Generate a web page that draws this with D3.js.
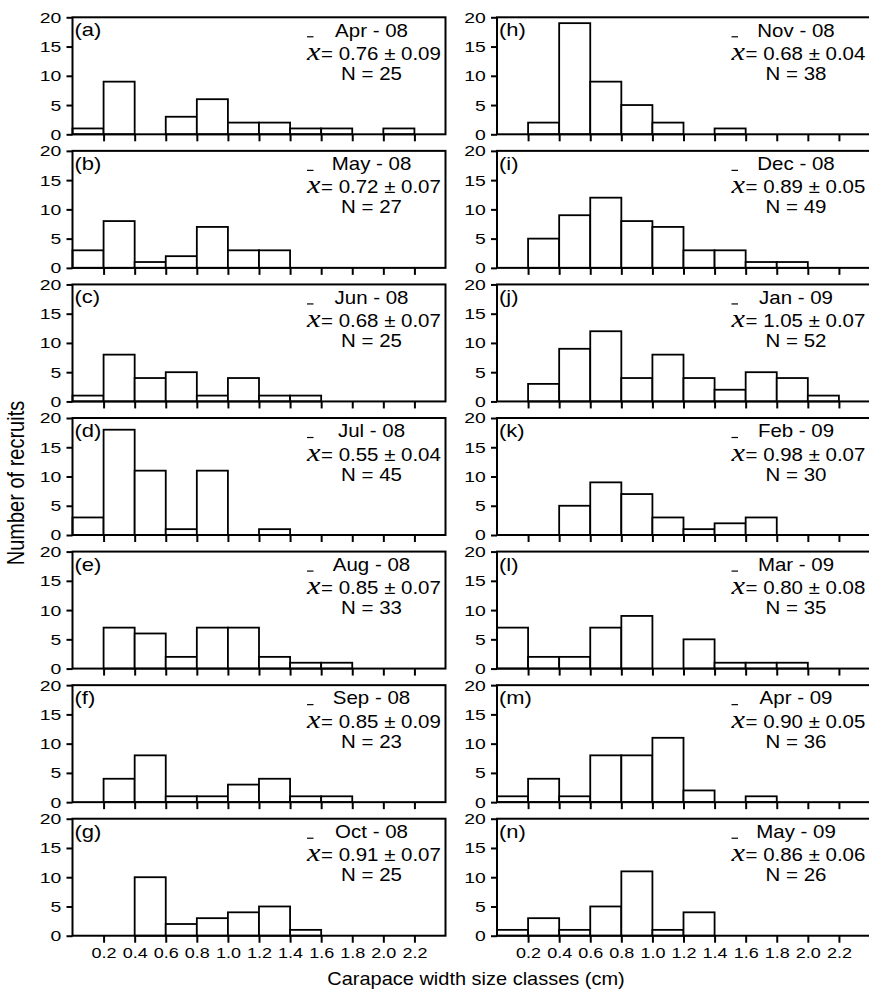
<!DOCTYPE html>
<html>
<head>
<meta charset="utf-8">
<script src="https://cdnjs.cloudflare.com/ajax/libs/d3/7.8.5/d3.min.js"></script>
<style>
	body { margin: 0; background: #fff; }
	svg { display: block; font-family: "Liberation Sans", Arial, sans-serif; }
	.axis text { font-size: 15px; fill: #000; }
	.axis line { stroke: #000; stroke-width: 2; }
	.frame { fill: none; stroke: #000; stroke-width: 2; }
	.bin { fill: #fff; stroke: #000; stroke-width: 1.8; }
</style>
</head>
<body>
<svg id="chart" width="869" height="991"></svg>
<script>
// bins are 0.2 cm wide, starting at 0
var binStarts = [0, 0.2, 0.4, 0.6, 0.8, 1.0, 1.2, 1.4, 1.6, 1.8, 2.0, 2.2];
var binWidth = 0.2;
var xTickValues = [0.2, 0.4, 0.6, 0.8, 1.0, 1.2, 1.4, 1.6, 1.8, 2.0, 2.2];
var yTickValues = [0, 5, 10, 15, 20];

// counts per size class, one array per month
var apr08 = [1, 9, 0, 3, 6, 2, 2, 1, 1, 0, 1, 0];
var may08 = [3, 8, 1, 2, 7, 3, 3, 0, 0, 0, 0, 0];
var jun08 = [1, 8, 4, 5, 1, 4, 1, 1, 0, 0, 0, 0];
var jul08 = [3, 18, 11, 1, 11, 0, 1, 0, 0, 0, 0, 0];
var aug08 = [0, 7, 6, 2, 7, 7, 2, 1, 1, 0, 0, 0];
var sep08 = [0, 4, 8, 1, 1, 3, 4, 1, 1, 0, 0, 0];
var oct08 = [0, 0, 10, 2, 3, 4, 5, 1, 0, 0, 0, 0];
var nov08 = [0, 2, 19, 9, 5, 2, 0, 1, 0, 0, 0, 0];
var dec08 = [0, 5, 9, 12, 8, 7, 3, 3, 1, 1, 0, 0];
var jan09 = [0, 3, 9, 12, 4, 8, 4, 2, 5, 4, 1, 0];
var feb09 = [0, 0, 5, 9, 7, 3, 1, 2, 3, 0, 0, 0];
var mar09 = [7, 2, 2, 7, 9, 0, 5, 1, 1, 1, 0, 0];
var apr09 = [1, 4, 1, 8, 8, 11, 2, 0, 1, 0, 0, 0];
var may09 = [1, 3, 1, 5, 11, 1, 4, 0, 0, 0, 0, 0];

var panelLetters = ["(a)", "(b)", "(c)", "(d)", "(e)", "(f)", "(g)",
	"(h)", "(i)", "(j)", "(k)", "(l)", "(m)", "(n)"];
var months = ["Apr - 08", "May - 08", "Jun - 08", "Jul - 08", "Aug - 08", "Sep - 08", "Oct - 08",
	"Nov - 08", "Dec - 08", "Jan - 09", "Feb - 09", "Mar - 09", "Apr - 09", "May - 09"];
var meanTexts = ["0.76 ± 0.09", "0.72 ± 0.07", "0.68 ± 0.07", "0.55 ± 0.04", "0.85 ± 0.07", "0.85 ± 0.09", "0.91 ± 0.07",
	"0.68 ± 0.04", "0.89 ± 0.05", "1.05 ± 0.07", "0.98 ± 0.07", "0.80 ± 0.08", "0.90 ± 0.05", "0.86 ± 0.06"];
var sampleSizes = [25, 27, 25, 45, 33, 23, 25, 38, 49, 52, 30, 35, 36, 26];
var countSets = [apr08, may08, jun08, jul08, aug08, sep08, oct08,
	nov08, dec08, jan09, feb09, mar09, apr09, may09];

var sizes = {
	rows: 7,
	colLeft: [72.5, 497],
	firstZero: 134.3,
	rowStep: 133.57,
	chartWidth: 373,
	chartHeight: 117
};

var svg = d3.select("#chart");

function translate(x, y) {
	return "translate(" + x + "," + y + ")";
}

var xScale = d3.scaleLinear().domain([0, 2.4]).range([0, sizes.chartWidth]);
var yScale = d3.scaleLinear().domain([0, 20]).range([sizes.chartHeight, 0]);

function drawPanel(i) {
	var col = Math.floor(i / sizes.rows);
	var row = i % sizes.rows;
	var left = sizes.colLeft[col];
	var top = sizes.firstZero + row * sizes.rowStep - sizes.chartHeight;
	var counts = countSets[i];
	var g = svg.append("g").attr("transform", translate(left, top));

	// histogram bars
	g.selectAll("rect.bin")
		.data(binStarts.map(function(b, k){ return {x: b, n: counts[k]}; })
			.filter(function(d){ return d.n > 0; }))
		.enter().append("rect")
		.attr("class", "bin")
		.attr("x", function(d){ return xScale(d.x); })
		.attr("width", xScale(binWidth) - xScale(0))
		.attr("y", function(d){ return yScale(d.n); })
		.attr("height", function(d){ return yScale(0) - yScale(d.n); });

	// axes
	var xAxis = d3.axisBottom(xScale)
		.tickValues(xTickValues)
		.tickSize(7)
		.tickPadding(5)
		.tickSizeOuter(0)
		.tickFormat(row === sizes.rows - 1 ? d3.format(".1f") : "");
	var xg = g.append("g")
		.attr("class", "axis x")
		.attr("transform", translate(0, sizes.chartHeight))
		.call(xAxis);
	xg.select(".domain").remove();
	xg.selectAll("text").attr("transform", "scale(1.2,1)");

	var yAxis = d3.axisLeft(yScale)
		.tickValues(yTickValues)
		.tickSize(6)
		.tickPadding(3)
		.tickSizeOuter(0);
	var yg = g.append("g").attr("class", "axis y").call(yAxis);
	yg.select(".domain").remove();
	yg.selectAll("text")
		.style("font-size", "15.5px")
		.attr("transform", "scale(1.25,1)");

	g.append("rect")
		.attr("class", "frame")
		.attr("width", sizes.chartWidth)
		.attr("height", sizes.chartHeight);

	// panel letter
	g.append("text")
		.attr("transform", translate(2, 19) + " scale(1.22,1)")
		.style("font-size", "18px")
		.text(panelLetters[i]);

	// month, mean and N
	var cx = 299;
	g.append("text")
		.attr("transform", translate(cx, 19.3) + " scale(1.17,1)")
		.attr("text-anchor", "middle")
		.style("font-size", "17.5px")
		.text(months[i]);
	var eqStart = 248.5;
	g.append("text")
		.attr("transform", translate(eqStart, 42.5) + " scale(1.17,1)")
		.style("font-size", "17.5px")
		.text("= " + meanTexts[i]);
	g.append("text")
		.attr("transform", translate(eqStart - 0.5, 42.5) + " scale(1.17,1)")
		.attr("text-anchor", "end")
		.style("font-family", "'Liberation Serif', serif")
		.style("font-style", "italic")
		.style("font-size", "26px")
		.text("x");
	// bar over the x
	g.append("line")
		.attr("x1", eqStart - 14).attr("x2", eqStart - 7.5)
		.attr("y1", 19.5).attr("y2", 19.5)
		.attr("stroke", "#000").attr("stroke-width", 1.2);
	g.append("text")
		.attr("transform", translate(cx, 62.5) + " scale(1.17,1)")
		.attr("text-anchor", "middle")
		.style("font-size", "17.5px")
		.text("N = " + sampleSizes[i]);
}

countSets.forEach(function(d, i){
	drawPanel(i);
});

// axis titles
svg.append("text")
	.attr("transform", translate(476, 985) + " scale(1.11,1)")
	.attr("text-anchor", "middle")
	.style("font-size", "18px")
	.text("Carapace width size classes (cm)");

svg.append("text")
	.attr("transform", translate(24, 483) + " scale(1.2,1) rotate(-90)")
	.attr("text-anchor", "middle")
	.style("font-size", "20px")
	.text("Number of recruits");
</script>
</body>
</html>
